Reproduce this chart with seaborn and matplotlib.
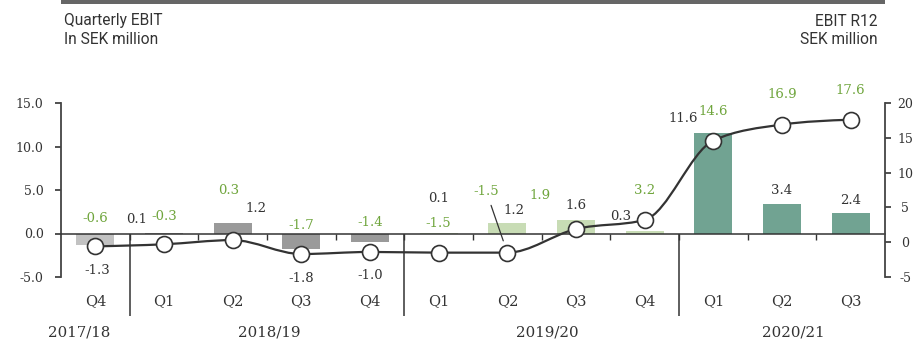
import numpy as np
import pandas as pd
import matplotlib
matplotlib.use("Agg")
import matplotlib.pyplot as plt
import seaborn as sns
from matplotlib.path import Path
from matplotlib.patches import PathPatch, Rectangle

# ---------------- data ----------------
quarters = ["Q4", "Q1", "Q2", "Q3", "Q4", "Q1", "Q2", "Q3", "Q4", "Q1", "Q2", "Q3"]
fiscal_years = ["2017/18"] + ["2018/19"] * 4 + ["2019/20"] * 4 + ["2020/21"] * 3
ebit_quarterly = [-1.3, 0.1, 1.2, -1.8, -1.0, 0.1, 1.2, 1.6, 0.3, 11.6, 3.4, 2.4]
ebit_r12 = [-0.6, -0.3, 0.3, -1.7, -1.4, -1.5, -1.5, 1.9, 3.2, 14.6, 16.9, 17.6]
year_labels = ["2017/18", "2018/19", "2019/20", "2020/21"]

# ---------------- styling ----------------
year_colors = {"2017/18": "#c2c2c2", "2018/19": "#9a9a9a",
               "2019/20": "#c8dcb5", "2020/21": "#71a392"}
dark = "#333333"
green = "#6fa53c"
serif = "DejaVu Serif"

# label offsets in pixels (dx, dy) relative to bar value / R12 marker
q_off = [(2, -26), (-27, 13), (23, 15), (0, -29), (0, -33), (0, 34),
         (7, 13), (0, 14), (-24, 14), (-30, 14), (0, 13), (0, 12)]
r_off = [(0, 28), (0, 28), (-4, 50), (0, 29), (0, 29), (0, 29),
         (-21, 61), (-36, 33), (0, 29), (0, 29), (0, 30), (0, 29)]
year_x = [-0.24, 2.53, 6.58, 10.17]
separators = [0.5, 4.5, 8.5]

sns.set_theme(style="ticks")
plt.rcParams["font.family"] = ["Roboto", "DejaVu Sans"]

W, H = 922, 342
fig = plt.figure(figsize=(W / 100, H / 100), dpi=100)
ax = fig.add_axes([61 / W, 1 - 277 / H, 824 / W, 174 / H])

df = pd.DataFrame({
    "key": [f"{y} {q}" for y, q in zip(fiscal_years, quarters)],
    "ebit": ebit_quarterly,
    "year": fiscal_years,
})
sns.barplot(data=df, x="key", y="ebit", hue="year", palette=year_colors,
            dodge=False, width=0.55, saturation=1, linewidth=0,
            legend=False, ax=ax)

ax.set_xlim(-0.5, 11.5)
ax.set_ylim(-5, 15)
ax.set_xlabel("")
ax.set_ylabel("")
ax.set_yticks([-5, 0, 5, 10, 15])
ax.set_yticklabels([f"{v:.1f}" for v in [-5, 0, 5, 10, 15]])
ax.set_xticks(range(len(quarters)))
ax.set_xticklabels(quarters)
ax.set_xticks(np.arange(0.5, 11.5, 1), minor=True)
ax.tick_params(axis="x", which="major", length=0, pad=44)
ax.tick_params(axis="x", which="minor", length=4, width=1, color=dark,
               direction="out", bottom=True)
ax.tick_params(axis="y", length=4, width=1.2, color=dark, pad=8.5, left=True)
ax.spines["bottom"].set_position(("data", 0))
ax.spines["bottom"].set_color(dark)
ax.spines["bottom"].set_linewidth(1.1)
ax.spines["left"].set_color("#444444")
ax.spines["left"].set_linewidth(1.3)
ax.spines["right"].set_visible(False)
ax.spines["top"].set_visible(False)
ax.patch.set_visible(False)

# separators between fiscal years
ax.vlines(separators, -9.54, 0, color=dark, lw=1.1, clip_on=False)

# year labels
for x, lab in zip(year_x, year_labels):
    ax.text(x, -11.4, lab, ha="center", va="center", family=serif,
            fontsize=10.8, color=dark, clip_on=False)

# quarterly labels
for i, (v, (dx, dy)) in enumerate(zip(ebit_quarterly, q_off)):
    ax.annotate(f"{v:.1f}", (i, v), xytext=(dx, dy), textcoords="offset pixels",
                ha="center", va="center", family=serif, fontsize=9.5,
                color=dark, annotation_clip=False)

# ---------------- R12 on right axis ----------------
ax2 = ax.twinx()
ax2.set_ylim(-5, 20)


def monotone_path(xs, ys):
    xs = np.asarray(xs, float)
    ys = np.asarray(ys, float)
    n = len(xs)
    h = np.diff(xs)
    s = np.diff(ys) / h
    t = np.zeros(n)
    for k in range(1, n - 1):
        p = (s[k - 1] * h[k] + s[k] * h[k - 1]) / (h[k - 1] + h[k])
        t[k] = (np.sign(s[k - 1]) + np.sign(s[k])) * min(abs(s[k - 1]), abs(s[k]), 0.5 * abs(p))
    t[0] = (3 * s[0] - t[1]) / 2 if n > 2 else s[0]
    t[-1] = (3 * s[-1] - t[-2]) / 2 if n > 2 else s[-1]
    verts = [(xs[0], ys[0])]
    codes = [Path.MOVETO]
    for k in range(n - 1):
        d = h[k] / 3
        verts += [(xs[k] + d, ys[k] + d * t[k]),
                  (xs[k + 1] - d, ys[k + 1] - d * t[k + 1]),
                  (xs[k + 1], ys[k + 1])]
        codes += [Path.CURVE4] * 3
    return Path(verts, codes)


xpos = np.arange(len(ebit_r12))
ax2.add_patch(PathPatch(monotone_path(xpos, ebit_r12), facecolor="none",
                        edgecolor=dark, lw=1.6, zorder=3))
sns.scatterplot(x=xpos, y=ebit_r12, ax=ax2, s=132, color="white",
                edgecolor=dark, linewidth=1.2, zorder=4, legend=False)

for i, (v, (dx, dy)) in enumerate(zip(ebit_r12, r_off)):
    kw = dict(xytext=(dx, dy), textcoords="offset pixels", ha="center",
              va="center", family=serif, fontsize=9.5, color=green,
              annotation_clip=False)
    if i == 6:
        kw["arrowprops"] = dict(arrowstyle="-", color=dark, lw=0.9,
                                shrinkA=3, shrinkB=9)
    ax2.annotate(f"{v:.1f}", (i, v), **kw)

ax2.set_xlim(-0.5, 11.5)
ax2.set_ylabel("")
ax2.set_yticks([-5, 0, 5, 10, 15, 20])
ax2.set_yticklabels([str(v) for v in [-5, 0, 5, 10, 15, 20]])
ax2.tick_params(axis="y", length=4, width=1.2, color=dark, pad=10.4, right=True)
for sp in ["left", "top", "bottom"]:
    ax2.spines[sp].set_visible(False)
ax2.spines["right"].set_color("#444444")
ax2.spines["right"].set_linewidth(1.3)

# tick label fonts (set last so nothing overrides them)
for lab in ax.get_xticklabels():
    lab.set_fontfamily(serif)
    lab.set_fontsize(10.5)
    lab.set_color(dark)
for lab in ax.get_yticklabels():
    lab.set_fontfamily(serif)
    lab.set_fontsize(9)
    lab.set_color(dark)
for lab in ax2.get_yticklabels():
    lab.set_fontfamily(serif)
    lab.set_fontsize(9)
    lab.set_color(dark)
    lab.set_horizontalalignment("center")

# ---------------- header ----------------
fig.add_artist(Rectangle((61 / W, 1 - 4 / H), 824 / W, 4 / H,
                         transform=fig.transFigure, color="#666666", lw=0))
for txt, yy, xx, ha in [("Quarterly EBIT", 21, 64, "left"),
                        ("In SEK million", 39, 64, "left"),
                        ("EBIT R12", 21, 878, "right"),
                        ("SEK million", 39, 878, "right")]:
    fig.text(xx / W, 1 - yy / H, txt, ha=ha, va="center", fontsize=11.2,
             color=dark)

fig.savefig("out.png", dpi=100)
